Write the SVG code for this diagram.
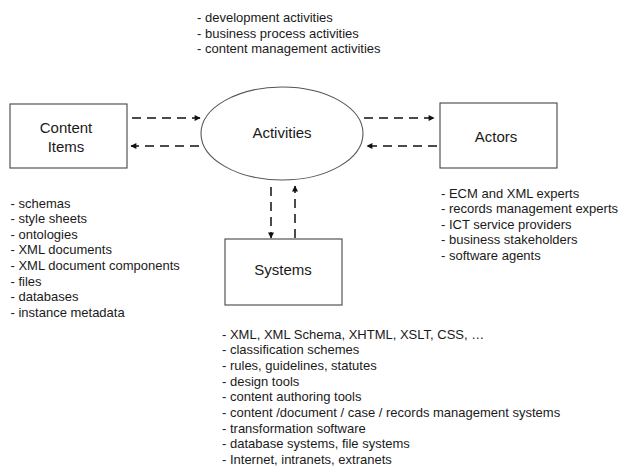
<svg xmlns="http://www.w3.org/2000/svg" width="620" height="466" viewBox="0 0 620 466">
  <style>
    .box { fill: #fff; stroke: #444; stroke-width: 1.1; }
    .label { font-family: "Liberation Sans", Arial, sans-serif; font-size: 15px; fill: #1a1a1a; text-anchor: middle; }
    .list { font-family: "Liberation Sans", Arial, sans-serif; font-size: 13px; fill: #1a1a1a; }
    .flow { fill: none; stroke: #111; stroke-width: 1.5; stroke-dasharray: 9 6; }
  </style>
  <defs>
    <marker id="head" viewBox="0 0 10 10" refX="9" refY="5" markerWidth="7" markerHeight="6" markerUnits="userSpaceOnUse" orient="auto">
      <path d="M0,0 L10,5 L0,10 Z" fill="#111"/>
    </marker>
  </defs>
  <rect width="620" height="466" fill="#fff"/>

  <!-- activity list above the ellipse -->
  <g id="activity-notes" class="list">
    <text x="197" y="22">- development activities</text>
    <text x="197" y="37.5">- business process activities</text>
    <text x="197" y="53">- content management activities</text>
  </g>

  <g id="content-items">
    <rect class="box" x="10" y="104" width="117" height="64"/>
    <text class="label" x="66" y="133">Content</text>
    <text class="label" x="66" y="152">Items</text>
  </g>

  <g id="activities">
    <ellipse cx="282" cy="133.5" rx="81" ry="46.5" fill="#fff" stroke="#555" stroke-width="1.1"/>
    <text class="label" x="282" y="138">Activities</text>
  </g>

  <g id="actors">
    <rect class="box" x="440" y="103" width="117" height="65"/>
    <text class="label" x="496" y="142">Actors</text>
  </g>

  <g id="systems">
    <rect class="box" x="225" y="239" width="117" height="66"/>
    <text class="label" x="283" y="275">Systems</text>
  </g>

  <!-- dashed two-way flows between the nodes -->
  <g id="connectors">
    <line class="flow" x1="132" y1="118" x2="200" y2="118" marker-end="url(#head)"/>
    <line class="flow" x1="199" y1="146" x2="131" y2="146" marker-end="url(#head)"/>
    <line class="flow" x1="364" y1="118" x2="434" y2="118" marker-end="url(#head)"/>
    <line class="flow" x1="437" y1="146" x2="367" y2="146" marker-end="url(#head)"/>
    <line class="flow" x1="271" y1="187" x2="271" y2="238" marker-end="url(#head)"/>
    <line class="flow" x1="295" y1="238" x2="295" y2="186" marker-end="url(#head)"/>
  </g>

  <g id="content-notes" class="list">
    <text x="10.5" y="207.5">- schemas</text>
    <text x="10.5" y="223.1">- style sheets</text>
    <text x="10.5" y="238.7">- ontologies</text>
    <text x="10.5" y="254.3">- XML documents</text>
    <text x="10.5" y="269.9">- XML document components</text>
    <text x="10.5" y="285.5">- files</text>
    <text x="10.5" y="301.1">- databases</text>
    <text x="10.5" y="316.7">- instance metadata</text>
  </g>

  <g id="actor-notes" class="list">
    <text x="441" y="197.5">- ECM and XML experts</text>
    <text x="441" y="213">- records management experts</text>
    <text x="441" y="228.5">- ICT service providers</text>
    <text x="441" y="244">- business stakeholders</text>
    <text x="441" y="259.5">- software agents</text>
  </g>

  <g id="system-notes" class="list">
    <text x="222" y="338.5">- XML, XML Schema, XHTML, XSLT,  CSS, …</text>
    <text x="222" y="354.2">- classification schemes</text>
    <text x="222" y="369.9">- rules, guidelines, statutes</text>
    <text x="222" y="385.6">- design tools</text>
    <text x="222" y="401.3">- content authoring tools</text>
    <text x="222" y="417">- content /document / case / records management systems</text>
    <text x="222" y="432.7">- transformation software</text>
    <text x="222" y="448.4">- database systems, file systems</text>
    <text x="222" y="464.1">- Internet, intranets, extranets</text>
  </g>
</svg>
